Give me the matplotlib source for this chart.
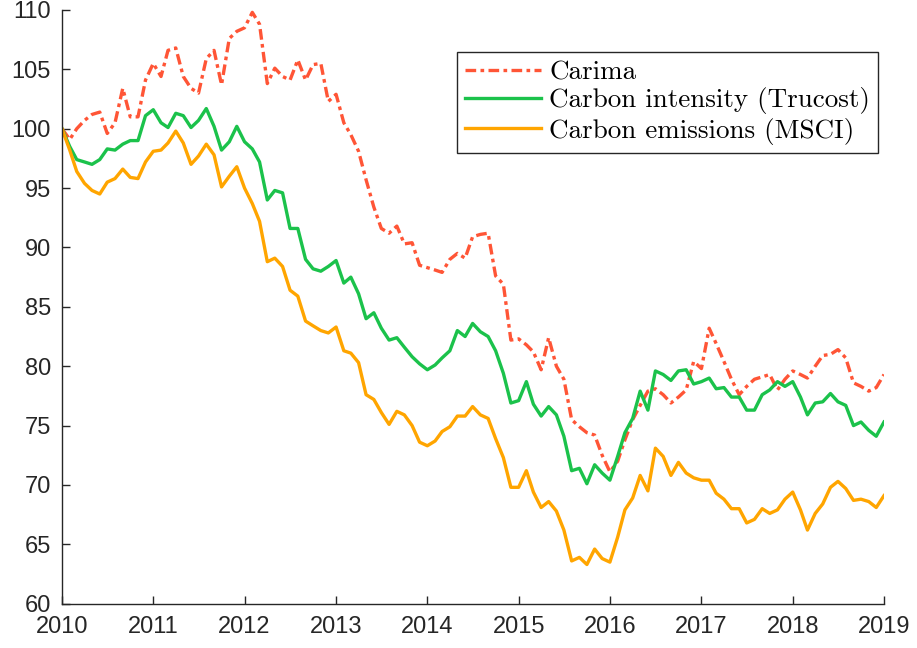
import pandas as pd
import matplotlib
matplotlib.use("Agg")
import matplotlib.pyplot as plt
import matplotlib.dates as mdates

# monthly index values, Jan 2010 -> Jan 2019
dates = pd.date_range("2010-01-01", "2019-01-01", freq="MS")

carima = [100.0, 99.1, 100.0, 100.7, 101.2, 101.4, 99.6, 100.5, 103.4, 101.0, 101.0, 104.1,
          105.5, 104.4, 106.6, 106.8, 104.4, 103.4, 103.0, 105.9, 106.6, 103.7, 107.6, 108.2,
          108.5, 109.8, 108.8, 103.8, 105.1, 104.4, 104.1, 105.8, 104.1, 105.4, 105.5, 102.3,
          102.9, 100.5, 99.5, 98.1, 95.7, 93.4, 91.6, 91.2, 91.8, 90.3, 90.4, 88.5,
          88.3, 88.1, 87.9, 89.0, 89.5, 89.1, 90.9, 91.1, 91.2, 87.6, 86.9, 82.2,
          82.3, 81.8, 81.2, 79.7, 82.4, 80.0, 78.9, 75.5, 74.9, 74.4, 74.2, 72.5,
          71.1, 72.0, 73.8, 75.5, 76.7, 77.9, 78.1, 77.6, 76.9, 77.4, 78.0, 80.4,
          79.8, 83.2, 81.9, 80.4, 78.9, 77.6, 78.3, 78.9, 79.1, 79.3, 78.0, 78.9,
          79.6, 79.3, 79.0, 80.0, 80.9, 81.0, 81.4, 80.7, 78.6, 78.3, 77.9, 78.2,
          79.3]

trucost = [100.0, 98.5, 97.4, 97.2, 97.0, 97.4, 98.3, 98.2, 98.7, 99.0, 99.0, 101.1,
           101.6, 100.5, 100.1, 101.3, 101.1, 100.1, 100.7, 101.7, 100.2, 98.2, 98.9, 100.2,
           98.9, 98.3, 97.2, 94.0, 94.8, 94.6, 91.6, 91.6, 89.0, 88.2, 88.0, 88.4,
           88.9, 87.0, 87.5, 86.1, 84.0, 84.5, 83.2, 82.2, 82.4, 81.6, 80.8, 80.2,
           79.7, 80.1, 80.7, 81.3, 83.0, 82.5, 83.6, 82.9, 82.5, 81.3, 79.4, 76.9,
           77.1, 78.7, 76.8, 75.8, 76.6, 75.9, 74.1, 71.2, 71.4, 70.1, 71.7, 71.0,
           70.4, 72.4, 74.4, 75.6, 77.9, 76.3, 79.6, 79.3, 78.8, 79.6, 79.7, 78.5,
           78.7, 79.0, 78.1, 78.2, 77.4, 77.4, 76.3, 76.3, 77.6, 78.0, 78.7, 78.3,
           78.7, 77.4, 75.9, 76.9, 77.0, 77.7, 77.0, 76.7, 75.0, 75.3, 74.6, 74.1,
           75.3]

msci = [100.0, 98.2, 96.4, 95.4, 94.8, 94.5, 95.5, 95.8, 96.6, 95.9, 95.8, 97.2,
        98.1, 98.2, 98.8, 99.8, 98.8, 97.0, 97.7, 98.7, 97.8, 95.1, 96.0, 96.8,
        95.0, 93.7, 92.2, 88.8, 89.1, 88.4, 86.4, 85.9, 83.8, 83.4, 83.0, 82.8,
        83.3, 81.3, 81.1, 80.3, 77.6, 77.2, 76.1, 75.1, 76.2, 75.9, 75.0, 73.6,
        73.3, 73.7, 74.5, 74.9, 75.8, 75.8, 76.6, 75.9, 75.6, 73.9, 72.3, 69.8,
        69.8, 71.2, 69.4, 68.1, 68.6, 67.8, 66.2, 63.6, 63.9, 63.3, 64.6, 63.8,
        63.5, 65.6, 67.9, 68.9, 70.8, 69.5, 73.1, 72.4, 70.8, 71.9, 71.0, 70.6,
        70.4, 70.4, 69.3, 68.8, 68.0, 68.0, 66.8, 67.1, 68.0, 67.6, 67.9, 68.8,
        69.4, 67.9, 66.2, 67.6, 68.4, 69.8, 70.3, 69.7, 68.7, 68.8, 68.6, 68.1,
        69.1]

labels = ["Carima", "Carbon intensity (Trucost)", "Carbon emissions (MSCI)"]
axis_col = "#262626"

fig = plt.figure(figsize=(9.17, 6.48), dpi=100)
ax = fig.add_axes([0.0676, 0.0684, 0.8964, 0.9162])

ax.plot(dates, carima, color="#FF5536", lw=2.4, dashes=(3.2, 1.3, 1.1, 1.3), label=labels[0])
ax.plot(dates, trucost, color="#1BC24B", lw=2.4, label=labels[1])
ax.plot(dates, msci, color="#FFA500", lw=2.4, label=labels[2])

ax.set_xlim(pd.Timestamp("2010-01-01"), pd.Timestamp("2019-01-01"))
ax.set_ylim(60, 110)
ax.set_yticks(range(60, 111, 5))
ax.xaxis.set_major_locator(mdates.YearLocator())
ax.xaxis.set_major_formatter(mdates.DateFormatter("%Y"))

for side in ["top", "right"]:
    ax.spines[side].set_visible(False)
for side in ["left", "bottom"]:
    ax.spines[side].set_color(axis_col)
    ax.spines[side].set_linewidth(1.0)

ax.tick_params(direction="in", length=6, width=1, color=axis_col, labelcolor=axis_col,
               labelsize=17)
ax.tick_params(axis="y", pad=8)
ax.tick_params(axis="x", pad=9)
for t in ax.get_xticklabels() + ax.get_yticklabels():
    t.set_family("Liberation Sans")

leg = ax.legend(loc="upper right", bbox_to_anchor=(0.993, 0.929), borderaxespad=0,
                prop={"family": "cmr10", "size": 19.5}, handlelength=2.8,
                labelspacing=0.12, borderpad=0.3, handletextpad=0.3,
                fancybox=False, framealpha=1, edgecolor=axis_col)
leg.get_frame().set_linewidth(1.0)

fig.savefig("out.png", dpi=100)
